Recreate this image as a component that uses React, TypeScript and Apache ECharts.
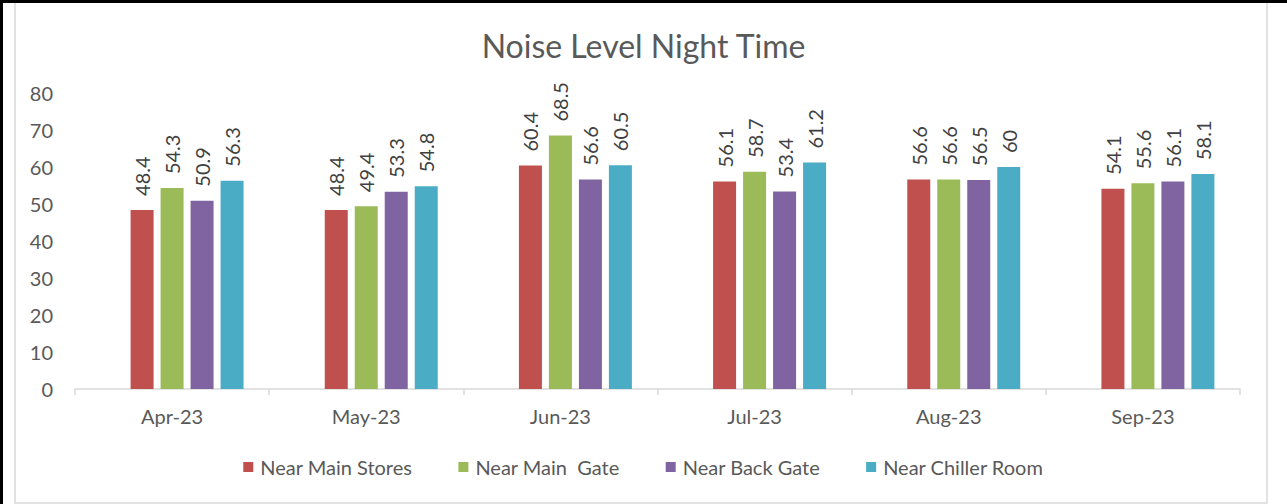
import React, { useEffect, useRef } from "react";
import * as echarts from "echarts";

const categories = ["Apr-23", "May-23", "Jun-23", "Jul-23", "Aug-23", "Sep-23"];
const seriesNames = ["Near Main Stores", "Near Main  Gate", "Near Back Gate", "Near Chiller Room"];
const mainStores = [48.4, 48.4, 60.4, 56.1, 56.6, 54.1];
const mainGate = [54.3, 49.4, 68.5, 58.7, 56.6, 55.6];
const backGate = [50.9, 53.3, 56.6, 53.4, 56.5, 56.1];
const chillerRoom = [56.3, 54.8, 60.5, 61.2, 60, 58.1];
const colors = ["#C0504D", "#9BBB59", "#8064A2", "#4BACC6"];
const yTicks = { min: 0, max: 80, interval: 10 };

const FONT = "Lato";

export default function App() {
  const ref = useRef<HTMLDivElement>(null);
  useEffect(() => {
    document.body.style.margin = "0";
    const chart = echarts.init(ref.current!, null, { renderer: "svg" });
    const values = [mainStores, mainGate, backGate, chillerRoom];
    const barCommon = {
      type: "bar",
      barWidth: 23,
      barGap: "30.4%",
    };
    const series: any[] = [
      { ...barCommon, name: "_spacer", data: categories.map(() => null), silent: true },
      ...values.map((v, i) => ({
        ...barCommon,
        name: seriesNames[i],
        data: v,
        itemStyle: { color: colors[i] },
        label: {
          show: true,
          position: "top",
          rotate: 90,
          align: "left",
          verticalAlign: "middle",
          distance: 14,
          color: "#404040",
          fontFamily: FONT,
          fontSize: 20,
        },
      })),
    ];
    chart.setOption({
      animation: false,
      backgroundColor: "#ffffff",
      title: {
        text: "Noise Level Night Time",
        left: "center",
        top: 24,
        textStyle: { fontFamily: FONT, fontSize: 32, fontWeight: "normal", color: "#595959" },
      },
      legend: {
        data: seriesNames,
        left: "center",
        top: 452,
        icon: "rect",
        itemWidth: 10,
        itemHeight: 10,
        itemGap: 46,
        textStyle: { fontFamily: FONT, fontSize: 20, color: "#595959", padding: [0, 0, 0, 2] },
      },
      grid: { left: 75, right: 47, top: 93, bottom: 115, containLabel: false },
      xAxis: {
        type: "category",
        data: categories,
        axisLine: { lineStyle: { color: "#D9D9D9", width: 1.5 } },
        axisTick: { show: true, length: 6, interval: 0, lineStyle: { color: "#D9D9D9", width: 1.5 } },
        axisLabel: { fontFamily: FONT, fontSize: 20, color: "#595959", margin: 17 },
      },
      yAxis: {
        type: "value",
        min: yTicks.min,
        max: yTicks.max,
        interval: yTicks.interval,
        axisLine: { show: false },
        axisTick: { show: false },
        splitLine: { show: false },
        axisLabel: { fontFamily: FONT, fontSize: 20, color: "#595959", margin: 22 },
      },
      graphic: [
        { type: "rect", shape: { x: 15, y: 0, width: 1252, height: 503 }, style: { fill: "none", stroke: "#D9D9D9", lineWidth: 1.5 }, silent: true },
        { type: "rect", shape: { x: 0, y: 0, width: 1287, height: 3 }, style: { fill: "#000000" }, silent: true },
        { type: "rect", shape: { x: 0, y: 0, width: 3, height: 504 }, style: { fill: "#000000" }, silent: true },
      ],
      series,
    });
    return () => chart.dispose();
  }, []);
  return <div ref={ref} style={{ position: "absolute", left: 0, top: 0, width: 1287, height: 504 }} />;
}
